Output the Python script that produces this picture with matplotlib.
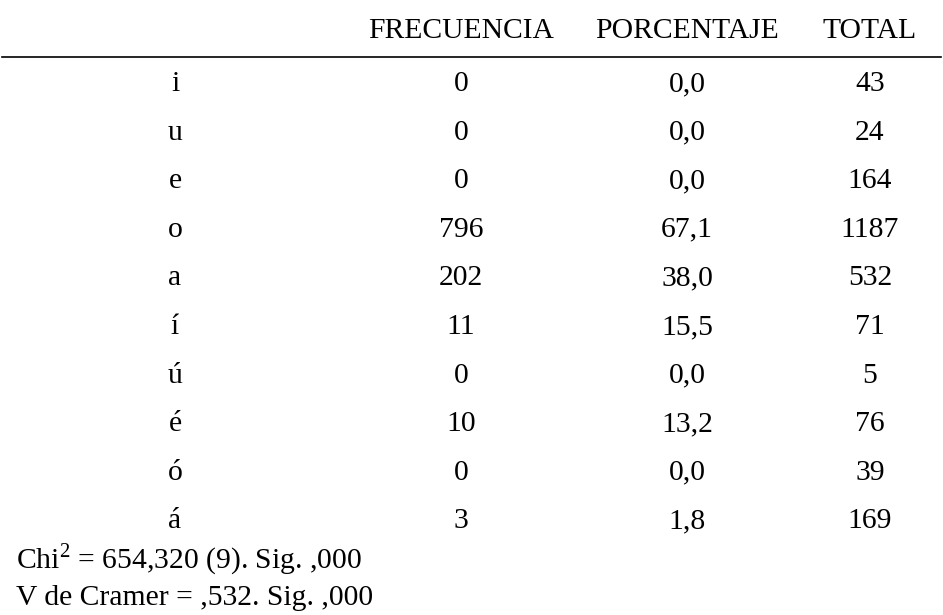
import matplotlib.pyplot as plt

plt.rcParams['font.family'] = ['Liberation Serif', 'DejaVu Serif']
plt.rcParams['mathtext.fontset'] = 'custom'
plt.rcParams['mathtext.rm'] = 'Liberation Serif'

headers = ['FRECUENCIA', 'PORCENTAJE', 'TOTAL']
vowels = ['i', 'u', 'e', 'o', 'a', 'í', 'ú', 'é', 'ó', 'á']
frecuencia = [0, 0, 0, 796, 202, 11, 0, 10, 0, 3]
porcentaje = ['0,0', '0,0', '0,0', '67,1', '38,0', '15,5', '0,0', '13,2', '0,0', '1,8']
total = [43, 24, 164, 1187, 532, 71, 5, 76, 39, 169]
notes = [r'Chi$^{\mathrm{2}}$ = 654,320 (9). Sig. ,000', 'V de Cramer = ,532. Sig. ,000']

fig = plt.figure(figsize=(9.43, 6.15), dpi=100)
ax = fig.add_axes([0, 0, 1, 1])
ax.set_xlim(0, 943)
ax.set_ylim(615, 0)
ax.axis('off')

fs = 21.3
col_x = [175, 461, 687, 870]

for x, h in zip(col_x[1:], headers):
    ax.text(x, 38, h, ha='center', va='baseline', fontsize=fs)
ax.plot([2, 941], [57, 57], color='black', lw=1.2)

for i, v in enumerate(vowels):
    y = 91 + i * 48.6
    row = [v, str(frecuencia[i]), porcentaje[i], str(total[i])]
    for x, s in zip(col_x, row):
        ax.text(x, y, s, ha='center', va='baseline', fontsize=fs)

for j, n in enumerate(notes):
    ax.text(16, 569 + j * 36, n, ha='left', va='baseline', fontsize=fs)

fig.savefig('out.png', dpi=100)
